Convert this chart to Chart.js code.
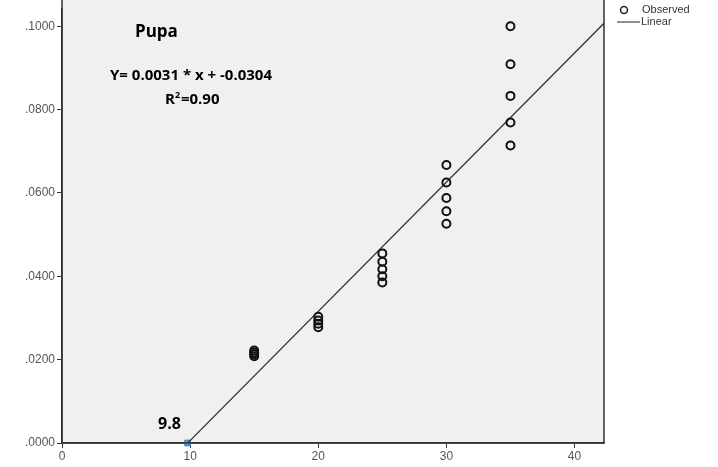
<!DOCTYPE html>
<html>
<head>
<meta charset="utf-8">
<script src="https://cdn.jsdelivr.net/npm/chart.js@4"></script>
<style>
  html, body { margin: 0; padding: 0; background: #fff; }
  #wrap { width: 718px; height: 467px; }
</style>
</head>
<body>
<div id="wrap"><canvas id="myChart1"></canvas></div>
<script>
// temperature (x) and observed development rate (y)
var temps = [15, 15, 15, 15, 20, 20, 20, 20, 25, 25, 25, 25, 25, 30, 30, 30, 30, 30, 35, 35, 35, 35, 35];
var rates = [0.0222, 0.0217, 0.0213, 0.0208,
             0.0303, 0.0294, 0.0286, 0.0278,
             0.0455, 0.0435, 0.0417, 0.0400, 0.0385,
             0.0667, 0.0625, 0.0588, 0.0556, 0.0526,
             0.1000, 0.0909, 0.0833, 0.0769, 0.0714];
var slope = 0.0031;
var intercept = -0.0304;
var lineX = [9.8, 42.3];
var thresholdX = 9.8;
var xTicks = [0, 10, 20, 30, 40];
var yTicks = [0, 0.02, 0.04, 0.06, 0.08, 0.1];

var observed = temps.map(function(t, i) { return {x: t, y: rates[i]}; });
var linear = lineX.map(function(t) { return {x: t, y: slope * t + intercept}; });

var decor = {
	id: 'decor',
	beforeDraw: function(chart) {
		var c = chart.ctx, a = chart.chartArea;
		c.save();
		c.fillStyle = '#f0f0f0';
		c.fillRect(a.left, 0, a.right - a.left, a.bottom);
		c.restore();
	},
	afterDraw: function(chart) {
		var c = chart.ctx, a = chart.chartArea;
		c.save();
		c.strokeStyle = '#333';
		c.lineWidth = 1.5;
		c.beginPath();
		c.moveTo(a.left, 0);
		c.lineTo(a.left, a.bottom);
		c.lineTo(a.right, a.bottom);
		c.lineTo(a.right, 0);
		c.stroke();
		c.fillStyle = '#000';
		c.textBaseline = 'middle';
		c.font = 'bold 17px "Open Sans", "Liberation Sans", sans-serif';
		c.fillText('Pupa', 135, 32);
		c.font = 'bold 15px "Open Sans", "Liberation Sans", sans-serif';
		c.fillText('Y= 0.0031 * x + -0.0304', 110, 76);
		c.fillText('R', 165, 100);
		var w = c.measureText('R').width;
		c.font = 'bold 9px "Open Sans", "Liberation Sans", sans-serif';
		c.fillText('2', 165 + w, 95);
		c.font = 'bold 15px "Open Sans", "Liberation Sans", sans-serif';
		c.fillText('=0.90', 165 + w + 6, 100);
		c.font = 'bold 16px "Open Sans", "Liberation Sans", sans-serif';
		c.fillText('9.8', 158, 424);
		// legend
		c.font = '11px "Liberation Sans", Arial, sans-serif';
		c.fillStyle = '#333';
		c.strokeStyle = '#222';
		c.lineWidth = 1.5;
		c.beginPath();
		c.arc(624, 10, 3.5, 0, Math.PI * 2);
		c.stroke();
		c.fillText('Observed', 642, 10);
		c.lineWidth = 1;
		c.beginPath();
		c.moveTo(617, 22);
		c.lineTo(640, 22);
		c.stroke();
		c.fillText('Linear', 641, 22);
		c.restore();
	}
};

var ctx = document.getElementById("myChart1").getContext("2d");
window.myChart = new Chart(ctx, {
	type: 'scatter',
	data: {
		datasets: [{
			label: 'Observed',
			data: observed,
			pointStyle: 'circle',
			pointRadius: 4,
			pointBorderWidth: 2,
			borderColor: '#111',
			backgroundColor: 'rgba(0,0,0,0)'
		}, {
			label: 'Linear',
			type: 'line',
			data: linear,
			borderColor: '#333',
			borderWidth: 1.3,
			pointRadius: 0,
			fill: false
		}, {
			label: 'threshold',
			data: [{x: thresholdX, y: 0}],
			pointStyle: 'rect',
			pointRadius: 4,
			borderWidth: 1,
			clip: false,
			borderColor: '#3f7fc4',
			backgroundColor: '#5b95d5'
		}]
	},
	plugins: [decor],
	options: {
		responsive: true,
		maintainAspectRatio: false,
		animation: false,
		layout: { padding: { top: 0, right: 114, left: 0, bottom: 0 } },
		plugins: {
			legend: { display: false },
			tooltip: { enabled: false }
		},
		scales: {
			x: {
				type: 'linear',
				min: 0,
				max: 42.3,
				afterBuildTicks: function(axis) {
					axis.ticks = xTicks.map(function(v) { return {value: v}; });
				},
				afterFit: function(axis) {
					axis.height = 24;
				},
				grid: { drawOnChartArea: false, drawTicks: true, tickLength: 5, color: '#333' },
				border: { display: true, color: '#333', width: 1.5 },
				ticks: {
					color: '#555',
					font: { family: '"Liberation Sans", Arial, sans-serif', size: 12 },
					padding: 1
				}
			},
			y: {
				type: 'linear',
				min: 0,
				max: 0.1041,
				afterBuildTicks: function(axis) {
					axis.ticks = yTicks.map(function(v) { return {value: v}; });
				},
				afterFit: function(axis) {
					axis.width = 62;
				},
				grid: { drawOnChartArea: false, drawTicks: true, tickLength: 5, color: '#333' },
				border: { display: true, color: '#333', width: 1.5 },
				ticks: {
					color: '#555',
					font: { family: '"Liberation Sans", Arial, sans-serif', size: 12 },
					padding: 2,
					callback: function(v) { return v.toFixed(4).replace(/^0/, ''); }
				}
			}
		}
	}
});
</script>
</body>
</html>
